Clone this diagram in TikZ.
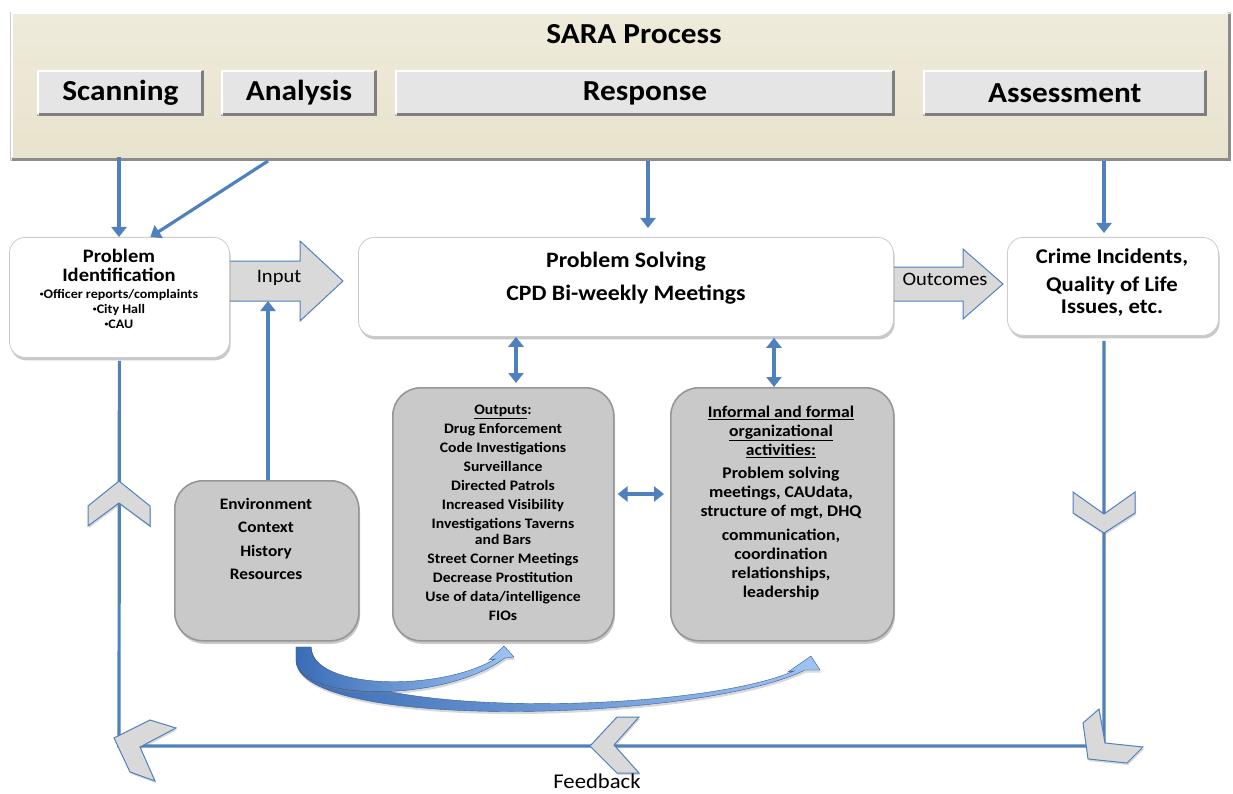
\documentclass[tikz,border=0pt]{standalone}
\usepackage{fontspec}
\setmainfont{Carlito}[FakeStretch=1.08]
\usetikzlibrary{arrows.meta,shadows,calc}

\definecolor{lnblue}{HTML}{4F81BD}
\definecolor{chevgray}{HTML}{D9D9D9}
\definecolor{boxgray}{HTML}{C9C9C9}
\definecolor{boxedge}{HTML}{969696}
\definecolor{btngray}{HTML}{E5E5E5}
\definecolor{btndark}{HTML}{7F7F7F}
\definecolor{sandtop}{HTML}{EFEBDB}
\definecolor{sandbot}{HTML}{E8E3CC}
\definecolor{sanddark}{HTML}{8C8C8C}
\definecolor{ribdark}{HTML}{3A6CB5}
\definecolor{riblight}{HTML}{A0C4F2}

\newcommand\smallbul{\raisebox{0.12em}{\fontsize{7}{7}\selectfont •}}

\begin{document}
\begin{tikzpicture}[x=1pt,y=-1pt,
  conn/.style={draw=lnblue,line width=3.2pt},
  tipA/.style={-{Triangle[width=15pt,length=10pt]}},
  dbl/.style={draw=lnblue,line width=3.2pt,
    {Triangle[width=15pt,length=10pt]}-{Triangle[width=15pt,length=10pt]}},
  whitebox/.style={anchor=north west,draw=gray!40,line width=0.8pt,fill=white,
    rounded corners=16pt,inner sep=0pt,
    drop shadow={shadow xshift=1.2pt,shadow yshift=-3pt,opacity=.5,fill=gray!85}},
  graybox/.style={anchor=north west,draw=boxedge,line width=1.6pt,fill=boxgray,
    rounded corners=28pt,inner sep=0pt,
    drop shadow={shadow xshift=1.2pt,shadow yshift=-3pt,opacity=.5,fill=gray!85}},
  btn/.style={anchor=north west,fill=btngray,draw=gray!60,line width=0.8pt,
    inner sep=0pt,font=\fontsize{29}{29}\selectfont\bfseries},
  chev/.style={fill=chevgray,draw=lnblue,line width=1pt,line join=miter,
    drop shadow={shadow xshift=1pt,shadow yshift=-2pt,opacity=.3,fill=gray}},
  blockarrow/.style={fill=chevgray,draw=lnblue,line width=1pt},
  ribbon/.style={left color=ribdark,right color=riblight,draw=ribdark!85!black,
    line width=0.4pt,
    drop shadow={shadow xshift=1pt,shadow yshift=-2.5pt,opacity=.3,fill=gray}},
  titlefont/.style={font=\fontsize{29}{29}\selectfont\bfseries},
  lbl/.style={font=\fontsize{19}{19}\selectfont},
]

% page
\fill[white] (0,0) rectangle (1233,794);
\useasboundingbox (0,0) rectangle (1233,794);

% ---------- SARA banner ----------
\node[anchor=north west,minimum width=1220pt,minimum height=148pt,inner sep=0pt,
      top color=sandtop,bottom color=sandbot,draw=gray!40,line width=0.8pt] (sara) at (10,12) {};
\draw[white,line width=2pt] ([xshift=1.5pt,yshift=4pt]sara.south west)
   -- ([xshift=1.5pt,yshift=-1.5pt]sara.north west) -- ([xshift=-4pt,yshift=-1.5pt]sara.north east);
\draw[sanddark,line width=3pt] ([xshift=2pt,yshift=1.5pt]sara.south west)
   -- ([xshift=-1.5pt,yshift=1.5pt]sara.south east) -- ([xshift=-1.5pt,yshift=-2pt]sara.north east);
\node[titlefont] (title) at (634,34) {SARA Process};

\node[btn,minimum width=166pt,minimum height=45pt] (scan) at (37,70) {Scanning};
\node[btn,minimum width=155pt,minimum height=45pt] (anal) at (221,70) {Analysis};
\node[btn,minimum width=499pt,minimum height=45pt] (resp) at (395,70) {Response};
\node[btn,minimum width=283pt,minimum height=45pt] (asmt) at (923,70) {Assessment};
\foreach \b in {scan,anal,resp,asmt}{
  \draw[white,line width=1.6pt] ([xshift=1.2pt,yshift=2pt]\b.south west)
     -- ([xshift=1.2pt,yshift=-1.2pt]\b.north west) -- ([xshift=-2pt,yshift=-1.2pt]\b.north east);
  \draw[btndark,line width=2.4pt] ([xshift=1.5pt,yshift=1.2pt]\b.south west)
     -- ([xshift=-1.2pt,yshift=1.2pt]\b.south east) -- ([xshift=-1.2pt,yshift=-1.5pt]\b.north east);
}

% ---------- block arrows (behind the boxes) ----------
\draw[blockarrow] (224,261) -- (300,261) -- (300,241) -- (343,281) -- (300,321) -- (300,301) -- (224,301) -- cycle;
\draw[blockarrow] (888,267) -- (963,267) -- (963,249) -- (1003,284) -- (963,319) -- (963,301) -- (888,301) -- cycle;

% ---------- main boxes ----------
\node[whitebox,minimum width=220pt,minimum height=120pt] (pid) at (9,237) {};
\node[whitebox,minimum width=535pt,minimum height=99pt] (ps) at (358,237) {};
\node[whitebox,minimum width=211pt,minimum height=98pt] (crime) at (1007,237) {};
\node[graybox,minimum width=184pt,minimum height=160pt] (env) at (174,480) {};
\node[graybox,minimum width=221pt,minimum height=253pt] (outp) at (392,387) {};
\node[graybox,minimum width=223pt,minimum height=253pt] (inf) at (670,387) {};

% ---------- box texts ----------
\node[font=\fontsize{19}{19}\selectfont\bfseries,align=center] (pidt) at (119,265.5) {Problem\\Identification};
\node[font=\fontsize{13}{15}\selectfont\bfseries,align=center] (pidb) at (119,308.5)
  {\smallbul Officer reports/complaints\\\smallbul City Hall\\\smallbul CAU};
\node[lbl] (inlbl) at (279,278) {Input};
\node[font=\fontsize{22}{33}\selectfont\bfseries,align=center] (pst) at (626,278.5)
  {Problem Solving\\CPD Bi-weekly Meetings};
\node[lbl] (outlbl) at (945,279) {Outcomes};
\node[font=\fontsize{21}{22}\selectfont\bfseries,align=center] (crt) at (1112,283)
  {Crime Incidents,\\[6pt]Quality of Life\\Issues, etc.};
\node[font=\fontsize{16}{23.4}\selectfont\bfseries,align=center] (envt) at (266,539)
  {Environment\\Context\\History\\Resources};
\node[font=\fontsize{14.5}{19}\selectfont\bfseries,align=center] (outt) at (503,512.5)
  {\underline{Outputs}:\\Drug Enforcement\\Code Investigations\\Surveillance\\Directed Patrols\\
   Increased Visibility\\Investigations Taverns\\[-3pt]and Bars\\Street Corner Meetings\\
   Decrease Prostitution\\Use of data/intelligence\\FIOs};
\node[font=\fontsize{16.3}{19}\selectfont\bfseries,align=center] (inft) at (781,503)
  {\underline{Informal and formal}\\\underline{organizational}\\\underline{activities:}\\[4pt]
   Problem solving\\meetings, CAUdata,\\structure of mgt, DHQ\\[5pt]communication,\\
   coordination\\relationships,\\leadership};

% ---------- connectors from the banner ----------
\coordinate (fromS) at (119,157);
\coordinate (fromA) at (268,161);
\coordinate (fromR) at (648,161);
\coordinate (fromM) at (1104,161);
\draw[conn,tipA] (fromS) -- (fromS |- pid.north);
\draw[conn,tipA] (fromA) -- ([xshift=31pt]pid.north);
\draw[conn,tipA,shorten >=9pt] (fromR) -- (fromR |- ps.north);
\draw[conn,tipA,shorten >=4pt] (fromM) -- (fromM |- crime.north);

% environment feeds the input
\coordinate (inbot) at (268,301);
\draw[conn,tipA] (inbot |- env.north) -- (inbot);

% problem solving <-> outputs / activities
\coordinate (dA) at (516,0);
\coordinate (dB) at (774,0);
\draw[dbl,shorten >=4pt] (dA |- ps.south) -- (dA |- outp.north);
\draw[dbl,shorten <=1pt] (dB |- ps.south) -- (dB |- inf.north);
\coordinate (dC) at (0,494);
\draw[dbl,shorten <=3pt,shorten >=6pt] (dC -| outp.east) -- (dC -| inf.west);

% ---------- feedback loop ----------
\coordinate (fbL) at (119,746);
\coordinate (fbR) at (1104,746);
\draw[conn,line join=miter] ([yshift=-3pt]pid.south) -- (fbL) -- (fbR) -- ([yshift=-5pt]crime.south -| fbR);

\draw[chev] (119,481) -- (150,506) -- (150,526) -- (119,503) -- (88,526) -- (88,506) -- cycle;
\draw[chev] (1073,492) -- (1104,514) -- (1135,492) -- (1135,513) -- (1104,533) -- (1073,513) -- cycle;
\draw[chev] (114,738) -- (150,720) -- (176,728) -- (140,747) -- (155,781) -- (130,772) -- cycle;
\draw[chev] (1099,709) -- (1083,723) -- (1088,759) -- (1127,763) -- (1143,747) -- (1105,743) -- cycle;
\draw[chev] (590,746) -- (617,717) -- (639,717) -- (614,745) -- (639,773) -- (617,773) -- cycle;
\node[font=\fontsize{21}{21}\selectfont,inner sep=1pt] (fb) at (597,781) {Feedback};

% ---------- curved influence arrows ----------
\path[ribbon] (296,647) -- (311,647) .. controls (312,720) and (690,716) .. (794,671)
   -- (788,672) -- (811,656) -- (820,670) -- (805,670)
   .. controls (700,722) and (296,732) .. (296,660) -- cycle;
\path[ribbon] (296,647) -- (311,647) .. controls (312,690) and (440,692) .. (495,659)
   -- (489,660) -- (504,646) -- (514,657) -- (505,658)
   .. controls (440,705) and (296,700) .. (296,660) -- cycle;

\end{tikzpicture}
\end{document}
